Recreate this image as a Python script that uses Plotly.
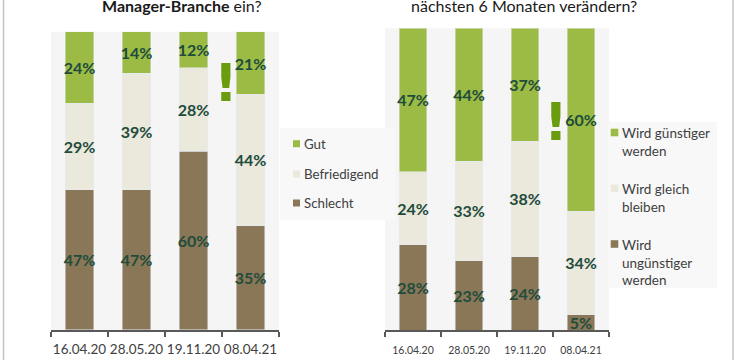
import plotly.graph_objects as go

# ---------------- data ----------------
dates = ["16.04.20", "28.05.20", "19.11.20", "08.04.21"]

left_names = ["Schlecht", "Befriedigend", "Gut"]
left_schlecht = [47, 47, 60, 35]
left_befriedigend = [29, 39, 28, 44]
left_gut = [24, 14, 12, 21]

right_names = ["Wird<br>ungünstiger<br>werden", "Wird gleich<br>bleiben", "Wird günstiger<br>werden"]
right_unguenstiger = [28, 23, 24, 5]
right_gleich = [24, 33, 38, 34]
right_guenstiger = [47, 44, 37, 60]

left_title = "<b>Manager-Branche</b> ein?"
right_title = "nächsten 6 Monaten verändern?"

# ---------------- style ----------------
W, H = 735, 360
C_GREEN = "#9BBB45"
C_BEIGE = "#EBE8DC"
C_BROWN = "#8A7758"
COLORS = [C_BROWN, C_BEIGE, C_GREEN]
LABEL_C = "#214C3C"
TEXT_C = "#404040"
FONT = "Lato"


def px(x):
    return x / W


def py(y):
    return (H - y) / H


fig = go.Figure()

left_series = [left_schlecht, left_befriedigend, left_gut]
right_series = [right_unguenstiger, right_gleich, right_guenstiger]

for name, vals, col in zip(left_names, left_series, COLORS):
    fig.add_trace(go.Bar(
        x=dates, y=vals, name=name, marker_color=col, width=0.5,
        text=[f"{v}%" for v in vals], textposition="inside",
        insidetextanchor="middle", textangle=0,
        textfont=dict(family=FONT, size=16, color=LABEL_C, weight="bold"),
        xaxis="x", yaxis="y", showlegend=False, hoverinfo="skip",
    ))

for name, vals, col in zip(right_names, right_series, COLORS):
    fig.add_trace(go.Bar(
        x=dates, y=vals, name=name, marker_color=col, width=0.49,
        text=[f"{v}%" for v in vals], textposition="inside",
        insidetextanchor="middle", textangle=0,
        textfont=dict(family=FONT, size=16, color=LABEL_C, weight="bold"),
        xaxis="x2", yaxis="y2", showlegend=False, hoverinfo="skip",
    ))

axis_common = dict(
    type="category", tickson="boundaries", ticks="outside", ticklen=5,
    tickcolor="#595959", tickwidth=1.5, showline=True, linecolor="#595959",
    linewidth=1.5, showgrid=False, zeroline=False, range=[-0.5, 3.5],
    tickangle=0, automargin=False,
)
yaxis_common = dict(range=[0, 100], visible=False, showgrid=False, zeroline=False,
                    automargin=False)

shapes = [
    # legend boxes
    dict(type="rect", xref="paper", yref="paper", x0=px(280), x1=px(395),
         y0=py(220), y1=py(128), fillcolor="#F8F8F8", line_width=0, layer="below"),
    dict(type="rect", xref="paper", yref="paper", x0=px(608), x1=px(717),
         y0=py(288), y1=py(122), fillcolor="#F8F8F8", line_width=0, layer="below"),
    # frame lines
    dict(type="line", xref="paper", yref="paper", x0=px(3.5), x1=px(3.5), y0=0, y1=1,
         line=dict(color="#C4C4C4", width=1.5)),
    dict(type="line", xref="paper", yref="paper", x0=px(733), x1=px(733), y0=0, y1=1,
         line=dict(color="#C4C4C4", width=1.5)),
]

annotations = [
    dict(text=left_title, xref="paper", yref="paper", x=px(182), y=py(17),
         xanchor="center", yanchor="bottom", showarrow=False,
         font=dict(family=FONT, size=16, color="#1A1A1A")),
    dict(text=right_title, xref="paper", yref="paper", x=px(524), y=py(17),
         xanchor="center", yanchor="bottom", showarrow=False,
         font=dict(family=FONT, size=16, color="#1A1A1A")),
    dict(text="<b>!</b>", xref="paper", yref="paper", x=px(226), y=py(83),
         xanchor="center", yanchor="middle", showarrow=False,
         font=dict(family="DejaVu Sans", size=52, color="#6B9B0E")),
    dict(text="<b>!</b>", xref="paper", yref="paper", x=px(556), y=py(121.5),
         xanchor="center", yanchor="middle", showarrow=False,
         font=dict(family="DejaVu Sans", size=52, color="#6B9B0E")),
]

# manual legends
left_leg_y = [203, 174, 143.7]
for name, col, yc in zip(left_names, COLORS, left_leg_y):
    shapes.append(dict(type="rect", xref="paper", yref="paper",
                       x0=px(293), x1=px(300), y0=py(yc + 3.5), y1=py(yc - 3.5),
                       fillcolor=col, line_width=0))
    annotations.append(dict(text=name, xref="paper", yref="paper", x=px(302), y=py(yc),
                            xanchor="left", yanchor="middle", align="left", showarrow=False,
                            font=dict(family=FONT, size=13.3, color=TEXT_C)))

right_leg_y = [244, 188.3, 132.5]
for name, col, yc in zip(right_names, COLORS, right_leg_y):
    shapes.append(dict(type="rect", xref="paper", yref="paper",
                       x0=px(610.7), x1=px(618.3), y0=py(yc + 3.8), y1=py(yc - 3.8),
                       fillcolor=col, line_width=0))
    annotations.append(dict(text=name, xref="paper", yref="paper", x=px(620), y=py(yc - 9.5),
                            xanchor="left", yanchor="top", align="left", showarrow=False,
                            font=dict(family=FONT, size=13.5, color=TEXT_C)))

fig.update_layout(
    width=W, height=H, margin=dict(l=0, r=0, t=0, b=0),
    paper_bgcolor="white", plot_bgcolor="#F5F5F5",
    barmode="stack", barnorm="percent", bargap=0.5,
    showlegend=False,
    uniformtext=dict(minsize=16, mode="show"),
    xaxis=dict(domain=[px(51), px(279)], anchor="y", ticklabelstandoff=6,
               tickfont=dict(family=FONT, size=13.5, color=TEXT_C), **axis_common),
    yaxis=dict(domain=[py(330), py(31.7)], anchor="x", **yaxis_common),
    xaxis2=dict(domain=[px(385), px(609)], anchor="y2", ticklabelstandoff=10,
                tickfont=dict(family=FONT, size=10.5, color=TEXT_C), **axis_common),
    yaxis2=dict(domain=[py(330), py(28.3)], anchor="x2", **yaxis_common),
    shapes=shapes,
    annotations=annotations,
)

fig.write_html(
    "out.html",
    config={"displayModeBar": False},
    post_script="document.body.style.margin='0';document.body.style.overflow='hidden';",
)
